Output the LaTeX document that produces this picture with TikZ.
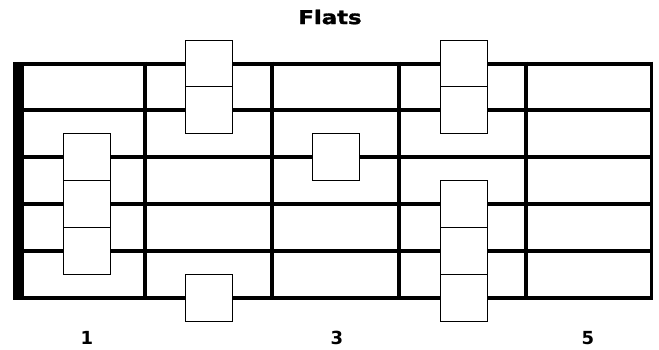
\documentclass[tikz,border=0pt]{standalone}
\usepackage{fontspec}
\setmainfont{DejaVu Sans}
\newfontfamily\titlefont[FakeStretch=1.2,FakeBold=1.5]{DejaVu Sans}

\begin{document}
\begin{tikzpicture}[x=1pt,y=-1pt,
    note/.style={draw,fill=white,minimum size=47pt,inner sep=0pt,line width=0.9pt},
    string/.style={line width=4pt},
    fret/.style={line width=4pt},
    fretnum/.style={font=\bfseries\fontsize{18}{18}\selectfont}]
      \useasboundingbox (0,0) rectangle (659,349);
      % strings
      \foreach \s in {1,...,6}
         \draw[string] (13,{63.5+46.8*(\s-1)}) -- (653,{63.5+46.8*(\s-1)});
      % frets
      \foreach \f in {145,272,399,526}
         \draw[fret] (\f,61.5) -- (\f,299.5);
      \draw[line width=3pt] (651.5,61.5) -- (651.5,299.5);
      \fill (13,61.5) rectangle (24,299.5);
      % flat notes
      \foreach \x/\s [count=\i] in {208.5/1,208.5/2,86.5/3,86.5/4,86.5/5,208.5/6,335.5/3,464/1,464/2,464/4,464/5,464/6}
         \node[note] (note\i) at (\x,{63.5+46.8*(\s-1)}) {};
      \node[font=\titlefont\bfseries\fontsize{19}{19}\selectfont] (title) at (330,17) {Flats};
      \node[fretnum] (num1) at (87,338) {1};
      \node[fretnum] (num3) at (337,338) {3};
      \node[fretnum] (num5) at (588,338) {5};
\end{tikzpicture}
\end{document}
